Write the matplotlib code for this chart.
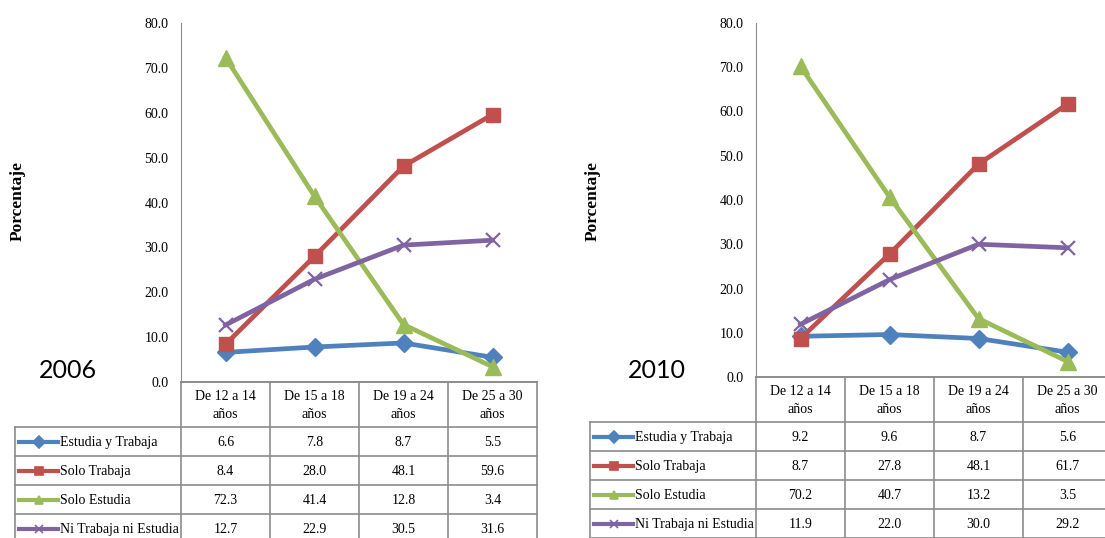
import matplotlib
matplotlib.use('Agg')
import matplotlib.pyplot as plt
from matplotlib.lines import Line2D

W, H = 1105, 538

# categorias y series
edades = ['De 12 a 14\naños', 'De 15 a 18\naños', 'De 19 a 24\naños', 'De 25 a 30\naños']
nombres = ['Estudia y Trabaja', 'Solo Trabaja', 'Solo Estudia', 'Ni Trabaja ni Estudia']
colores = ['#4F81BD', '#C0504D', '#9BBB59', '#8064A2']
marcadores = ['D', 's', '^', 'x']
tam_marcador = [9.5, 10, 11.5, 10.5]

# datos 2006
estudia_trabaja_2006 = [6.6, 7.8, 8.7, 5.5]
solo_trabaja_2006 = [8.4, 28.0, 48.1, 59.6]
solo_estudia_2006 = [72.3, 41.4, 12.8, 3.4]
ni_ni_2006 = [12.7, 22.9, 30.5, 31.6]

# datos 2010
estudia_trabaja_2010 = [9.2, 9.6, 8.7, 5.6]
solo_trabaja_2010 = [8.7, 27.8, 48.1, 61.7]
solo_estudia_2010 = [70.2, 40.7, 13.2, 3.5]
ni_ni_2010 = [11.9, 22.0, 30.0, 29.2]

y_ticks = [0, 10, 20, 30, 40, 50, 60, 70, 80]

GRIS = '#8C8C8C'
SERIF = 'Liberation Serif'


def ax_pixeles(fig, x0, y0, x1, y1):
    # rectangulo en pixeles (origen arriba a la izquierda)
    return fig.add_axes([x0 / W, 1 - y1 / H, (x1 - x0) / W, (y1 - y0) / H])


def panel(fig, over, anio, valores, xa, yb, xl, x_anio):
    cw = 89
    ax = ax_pixeles(fig, xa, 23, xa + 4 * cw, yb)
    for i, serie in enumerate(valores):
        ax.plot(range(4), serie, color=colores[i], lw=3.4, marker=marcadores[i],
                ms=tam_marcador[i], mew=1.6 if marcadores[i] == 'x' else 1,
                clip_on=False, zorder=3 + i)
    ax.set_xlim(-0.5, 3.5)
    ax.set_ylim(0, 80)
    ax.set_yticks(y_ticks)
    ax.set_yticklabels(['%.1f' % v for v in y_ticks], fontfamily=SERIF, fontsize=10)
    ax.set_xticks([])
    ax.tick_params(axis='y', length=0, pad=9)
    for s in ['top', 'right']:
        ax.spines[s].set_visible(False)
    ax.spines['left'].set_color(GRIS)
    ax.spines['bottom'].set_color(GRIS)
    ax.spines['bottom'].set_linewidth(1.2)

    over.text(xl + 3, 201, 'Porcentaje', rotation=90, ha='center', va='center',
              fontfamily=SERIF, fontsize=12.5, fontweight='bold')
    over.text(x_anio, 371, anio, fontsize=18, family='Lato', ha='center', va='center')

    # tabla de datos
    yt = yb
    hh, rh = 45, 29
    xr = xa + 4 * cw
    over.plot([xa, xr], [yt, yt], color=GRIS, lw=1.2)
    for i in range(5):
        over.plot([xa + i * cw] * 2, [yt, H + 5], color=GRIS, lw=1.2)
    over.plot([xl, xl], [yt + hh, H + 5], color=GRIS, lw=1.2)
    for j in range(5):
        y = yt + hh + j * rh
        over.plot([xl, xr], [y, y], color=GRIS, lw=1.2)
    for i, e in enumerate(edades):
        over.text(xa + (i + 0.5) * cw, yt + hh / 2 + 1, e, ha='center', va='center',
                  fontfamily=SERIF, fontsize=10, linespacing=1.5)
    for j, serie in enumerate(valores):
        yc = yt + hh + (j + 0.5) * rh
        over.add_line(Line2D([xl + 4, xl + 43], [yc, yc], color=colores[j], lw=3))
        over.plot([xl + 23.5], [yc], marker=marcadores[j], color=colores[j], ms=6, mew=1.2)
        over.text(xl + 45, yc + 1, nombres[j], ha='left', va='center',
                  fontfamily=SERIF, fontsize=10)
        for i, v in enumerate(serie):
            over.text(xa + (i + 0.5) * cw, yc + 1, '%.1f' % v, ha='center', va='center',
                      fontfamily=SERIF, fontsize=10)
    return ax


fig = plt.figure(figsize=(W / 100, H / 100), dpi=100)
over = fig.add_axes([0, 0, 1, 1], zorder=10)
over.set_xlim(0, W)
over.set_ylim(H, 0)
over.axis('off')

panel(fig, over, '2006',
      [estudia_trabaja_2006, solo_trabaja_2006, solo_estudia_2006, ni_ni_2006],
      181, 382, 15, 68)
panel(fig, over, '2010',
      [estudia_trabaja_2010, solo_trabaja_2010, solo_estudia_2010, ni_ni_2010],
      756, 377, 590, 657)

fig.savefig('out.png', dpi=100)
